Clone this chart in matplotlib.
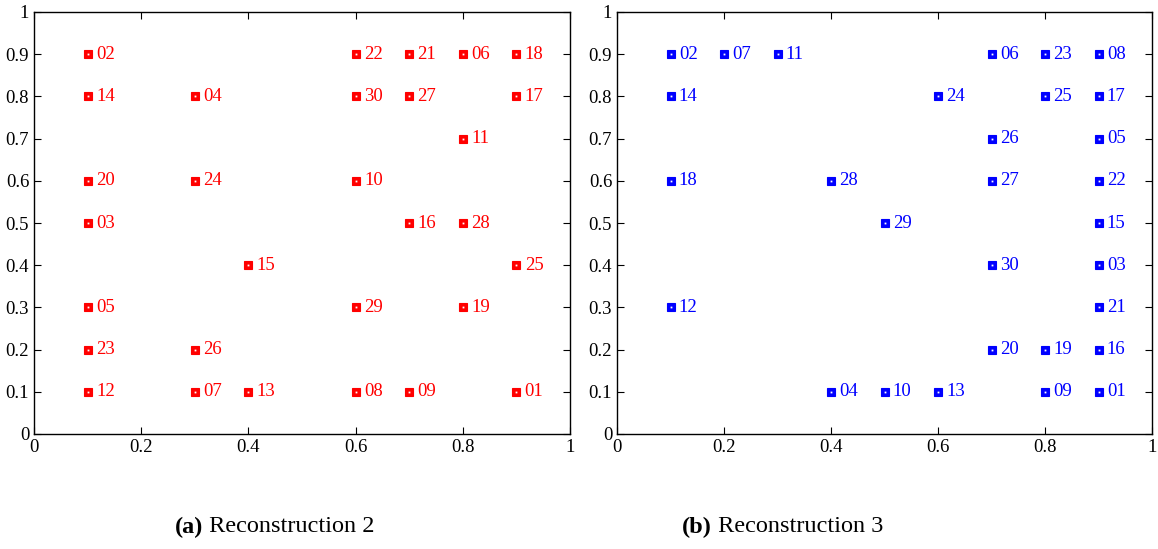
import matplotlib
matplotlib.use('Agg')
import matplotlib.pyplot as plt

plt.rcParams['font.family'] = ['Liberation Serif', 'DejaVu Serif']

# reconstruction 2 (red)
rec2_x = [0.1, 0.1, 0.1, 0.1, 0.1, 0.1, 0.1,
          0.3, 0.3, 0.3, 0.3,
          0.4, 0.4,
          0.6, 0.6, 0.6, 0.6, 0.6,
          0.7, 0.7, 0.7, 0.7,
          0.8, 0.8, 0.8, 0.8,
          0.9, 0.9, 0.9, 0.9]
rec2_y = [0.9, 0.8, 0.6, 0.5, 0.3, 0.2, 0.1,
          0.8, 0.6, 0.2, 0.1,
          0.4, 0.1,
          0.9, 0.8, 0.6, 0.3, 0.1,
          0.9, 0.8, 0.5, 0.1,
          0.9, 0.7, 0.5, 0.3,
          0.9, 0.8, 0.4, 0.1]
rec2_lbl = ['02', '14', '20', '03', '05', '23', '12',
            '04', '24', '26', '07',
            '15', '13',
            '22', '30', '10', '29', '08',
            '21', '27', '16', '09',
            '06', '11', '28', '19',
            '18', '17', '25', '01']

# reconstruction 3 (blue)
rec3_x = [0.1, 0.1, 0.1, 0.1,
          0.2, 0.3,
          0.4, 0.4,
          0.5, 0.5,
          0.6, 0.6,
          0.7, 0.7, 0.7, 0.7, 0.7,
          0.8, 0.8, 0.8, 0.8,
          0.9, 0.9, 0.9, 0.9, 0.9, 0.9, 0.9, 0.9, 0.9]
rec3_y = [0.9, 0.8, 0.6, 0.3,
          0.9, 0.9,
          0.6, 0.1,
          0.5, 0.1,
          0.8, 0.1,
          0.9, 0.7, 0.6, 0.4, 0.2,
          0.9, 0.8, 0.2, 0.1,
          0.9, 0.8, 0.7, 0.6, 0.5, 0.4, 0.3, 0.2, 0.1]
rec3_lbl = ['02', '14', '18', '12',
            '07', '11',
            '28', '04',
            '29', '10',
            '24', '13',
            '06', '26', '27', '30', '20',
            '23', '25', '19', '09',
            '08', '17', '05', '22', '15', '03', '21', '16', '01']

xticks = [0, 0.2, 0.4, 0.6, 0.8, 1]
yticks = [0, 0.1, 0.2, 0.3, 0.4, 0.5, 0.6, 0.7, 0.8, 0.9, 1]


def fmt(v):
    return '%g' % v


def panel(ax, xs, ys, labels, color):
    ax.plot(xs, ys, 's', color=color, markersize=6.2, mew=0.8, linestyle='none')
    ax.plot(xs, ys, 's', color='white', markersize=1.3, mew=0, linestyle='none')
    for x, y, t in zip(xs, ys, labels):
        ax.annotate(t, (x, y), xytext=(6, 0), textcoords='offset points',
                    va='center', ha='left', color=color, fontsize=13.5)
    ax.set_xlim(0, 1)
    ax.set_ylim(0, 1)
    ax.set_xticks(xticks)
    ax.set_xticklabels([fmt(v) for v in xticks])
    ax.set_yticks(yticks)
    ax.set_yticklabels([fmt(v) for v in yticks])
    ax.tick_params(direction='in', top=True, right=True, length=5,
                   labelsize=13.5, width=0.8)
    for s in ax.spines.values():
        s.set_linewidth(1.0)


def caption(x, tag, name):
    # bold tag, then the plain name placed right after it
    t = fig.text(x / 1158, 1 - 527 / 549, tag, fontweight='bold',
                 ha='left', va='center', fontsize=17.5)
    fig.add_artist(matplotlib.text.Annotation(
        ' ' + name, xy=(1, 0.5), xycoords=t, va='center', ha='left',
        fontsize=17.5))


fig = plt.figure(figsize=(11.58, 5.49), dpi=100)
ax1 = fig.add_axes([34 / 1158, 1 - 434 / 549, 536 / 1158, 422 / 549])
ax2 = fig.add_axes([617 / 1158, 1 - 434 / 549, 535 / 1158, 422 / 549])

panel(ax1, rec2_x, rec2_y, rec2_lbl, '#ff0000')
panel(ax2, rec3_x, rec3_y, rec3_lbl, '#0000ff')

caption(175, '(a)', 'Reconstruction 2')
caption(682, '(b)', 'Reconstruction 3')

fig.savefig('out.png', dpi=100)
